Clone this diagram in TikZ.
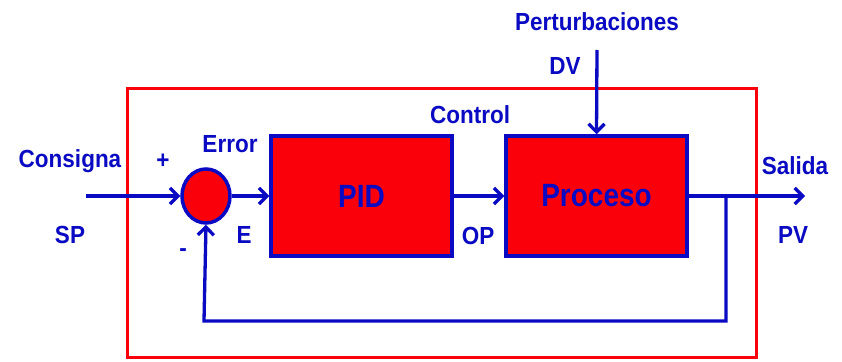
\documentclass[tikz,border=0pt]{standalone}
\usepackage{fontspec}
\setmainfont{Liberation Sans}
\usetikzlibrary{arrows.meta,shapes.geometric}
\definecolor{bl}{RGB}{10,10,195}
\definecolor{rd}{RGB}{250,0,10}
\tikzset{
  lbl/.style={text=bl,font=\bfseries\fontsize{22.5}{22.5}\selectfont,inner sep=0pt},
  big/.style={text=bl,font=\bfseries\fontsize{28}{28}\selectfont,inner sep=0pt},
  blk/.style={draw=bl,fill=rd,line width=3.5pt,inner sep=0pt},
  wire/.style={draw=bl,line width=3.3pt},
  arr/.style={wire,-{Straight Barb[length=8pt,width=16pt,line width=3.3pt]}}
}
\begin{document}
\begin{tikzpicture}[x=1pt,y=-1pt]
\useasboundingbox (0,0) rectangle (842,361);
\fill[white] (0,0) rectangle (842,361);
% outer red frame
\draw[rd,line width=3pt] (127,88) rectangle (756,357);
% blocks
\node[blk,minimum width=181pt,minimum height=120pt] (pid) at (361.5,196) {};
\node[big] at (pid.center) {\scalebox{1}[1.15]{PID}};
\node[blk,minimum width=181pt,minimum height=120pt] (proc) at (596.5,196) {};
\node[big] at (proc.center) {\scalebox{1}[1.15]{Proceso}};
\node[blk,ellipse,minimum width=48pt,minimum height=54pt] (sum) at (206,196) {};
% coordinates
\coordinate (in) at (86,196);
\coordinate (out) at (805,196);
\coordinate (br) at (726,196);
\coordinate (fb1) at (726,321);
\coordinate (fb2) at (204,321);
\coordinate (dv) at (597,50);
% connectors
\draw[arr] (in) -- (sum.west);
\draw[arr] (sum.east) -- (pid.west);
\draw[arr] (pid.east) -- (proc.west);
\draw[arr] (proc.east) -- (out);
\draw[arr] (br) -- (fb1) -- (fb2) -- (sum.south);
\draw[arr] (dv) -- (proc.north);
% labels
\node[lbl] (t1) at (597,22) {\scalebox{1}[1.1]{Perturbaciones}};
\node[lbl] (t2) at (565,66) {\scalebox{1}[1.1]{DV}};
\node[lbl] (t3) at (470,115) {\scalebox{1}[1.1]{Control}};
\node[lbl] (t4) at (230,144) {\scalebox{1}[1.1]{Error}};
\node[lbl] (t5) at (163,161) {\scalebox{1}[1.1]{+}};
\node[lbl] (t6) at (183,253) {\scalebox{1}[1.1]{-}};
\node[lbl] (t7) at (244,235) {\scalebox{1}[1.1]{E}};
\node[lbl] (t8) at (70,161) {\scalebox{1}[1.1]{Consigna}};
\node[lbl] (t9) at (70,235) {\scalebox{1}[1.1]{SP}};
\node[lbl] (t10) at (478,236) {\scalebox{1}[1.1]{OP}};
\node[lbl] (t11) at (795,166) {\scalebox{1}[1.1]{Salida}};
\node[lbl] (t12) at (793,235) {\scalebox{1}[1.1]{PV}};
\end{tikzpicture}
\end{document}
